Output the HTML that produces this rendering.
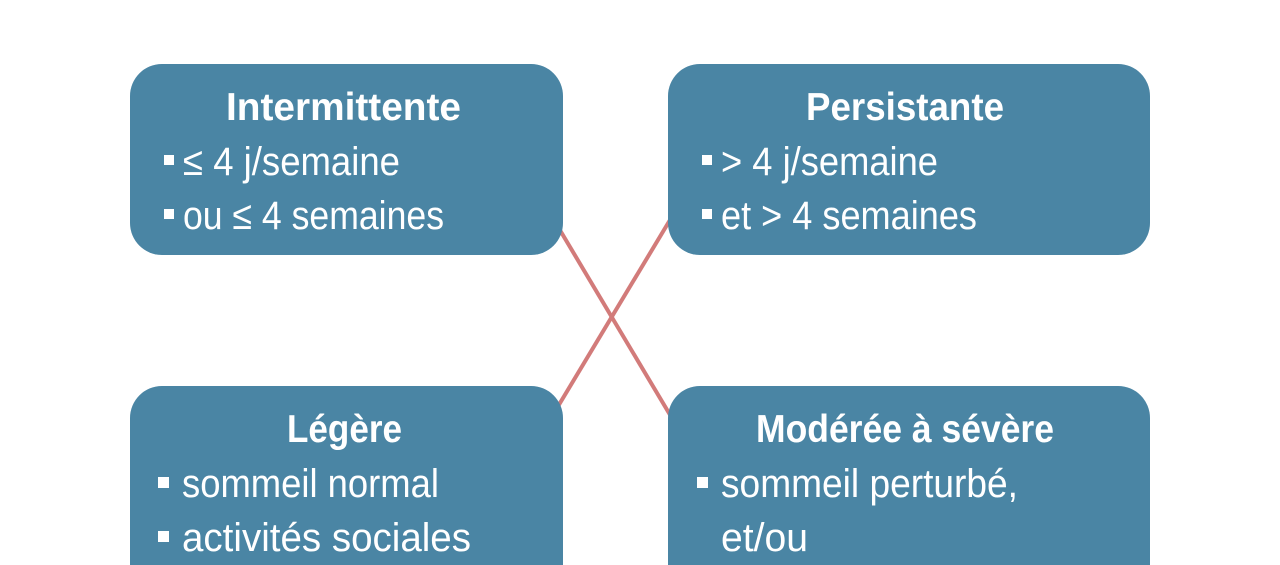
<!DOCTYPE html>
<html><head><meta charset="utf-8"><style>
html,body{margin:0;padding:0;background:#fff;width:1280px;height:565px;overflow:hidden}
svg{display:block}
</style></head><body>
<svg width="1280" height="565" viewBox="0 0 1280 565" xmlns="http://www.w3.org/2000/svg" font-family="Liberation Sans, sans-serif" fill="#fff">
<line x1="545" y1="205" x2="685" y2="440" stroke="#d27b7a" stroke-width="4"/>
<line x1="685" y1="195" x2="542" y2="433" stroke="#d27b7a" stroke-width="4"/>
<g fill="#4a85a4">
<rect x="130" y="64" width="433" height="191" rx="32"/>
<rect x="668" y="64" width="482" height="191" rx="32"/>
<path d="M130 565 V418 A32 32 0 0 1 162 386 H531 A32 32 0 0 1 563 418 V565 Z"/>
<path d="M668 565 V418 A32 32 0 0 1 700 386 H1118 A32 32 0 0 1 1150 418 V565 Z"/>
</g>
<g font-weight="bold" font-size="39">
<text x="226" y="120" textLength="235" lengthAdjust="spacingAndGlyphs">Intermittente</text>
<text x="806" y="120" textLength="198" lengthAdjust="spacingAndGlyphs">Persistante</text>
<text x="287" y="442" textLength="115" lengthAdjust="spacingAndGlyphs">Légère</text>
<text x="756" y="442" textLength="298" lengthAdjust="spacingAndGlyphs">Modérée à sévère</text>
</g>
<g font-size="40">
<text x="183" y="175" textLength="217" lengthAdjust="spacingAndGlyphs">≤ 4 j/semaine</text>
<text x="183" y="229" textLength="261" lengthAdjust="spacingAndGlyphs">ou ≤ 4 semaines</text>
<text x="721" y="175" textLength="217" lengthAdjust="spacingAndGlyphs">&gt; 4 j/semaine</text>
<text x="721" y="229" textLength="256" lengthAdjust="spacingAndGlyphs">et &gt; 4 semaines</text>
<text x="182" y="497" textLength="257" lengthAdjust="spacingAndGlyphs">sommeil normal</text>
<text x="182" y="551" textLength="289" lengthAdjust="spacingAndGlyphs">activités sociales</text>
<text x="721" y="497" textLength="297" lengthAdjust="spacingAndGlyphs">sommeil perturbé,</text>
<text x="721" y="551" textLength="87" lengthAdjust="spacingAndGlyphs">et/ou</text>
</g>
<rect x="164" y="155" width="10" height="10"/>
<rect x="164" y="209" width="10" height="10"/>
<rect x="702" y="155" width="10" height="10"/>
<rect x="702" y="209" width="10" height="10"/>
<rect x="158" y="477" width="11" height="11"/>
<rect x="158" y="531" width="11" height="11"/>
<rect x="697" y="477" width="11" height="11"/>
</svg>
</body></html>
